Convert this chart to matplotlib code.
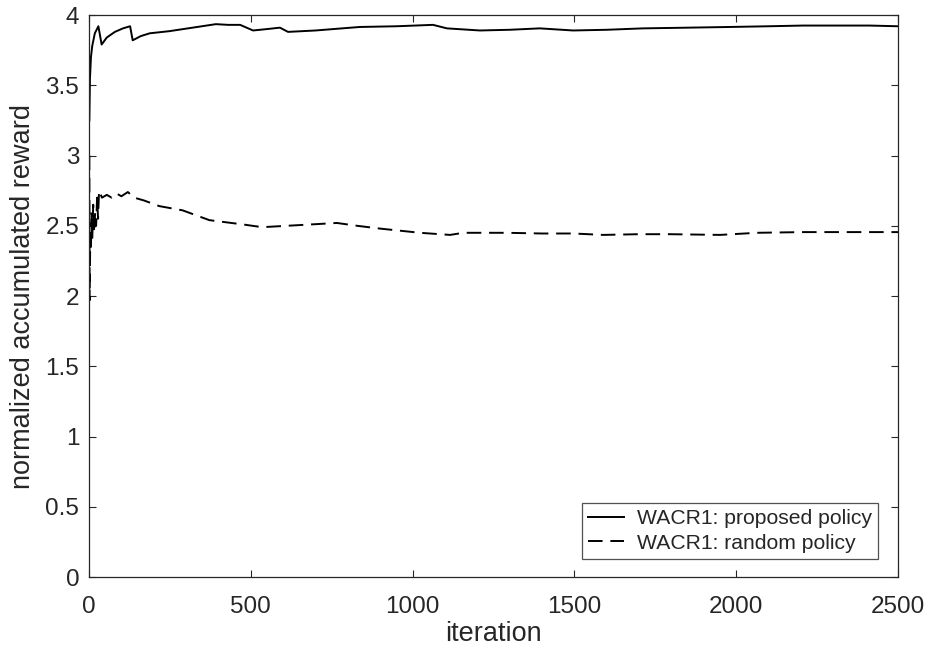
import matplotlib
matplotlib.use("Agg")
import matplotlib.pyplot as plt

# ---- data ----
proposed_iter = [1, 3, 6, 10, 18, 29, 39, 55, 80, 105, 127, 135, 160, 188, 248, 320,
                 392, 430, 467, 507, 550, 590, 615, 700, 837, 950, 1063, 1106, 1208,
                 1300, 1393, 1496, 1600, 1712, 1850, 1981, 2100, 2206, 2413, 2500]
proposed_val = [3.25, 3.55, 3.70, 3.78, 3.87, 3.92, 3.79, 3.84, 3.88, 3.905, 3.92, 3.82,
                3.85, 3.87, 3.885, 3.91, 3.935, 3.93, 3.93, 3.89, 3.90, 3.91, 3.88, 3.89,
                3.915, 3.92, 3.93, 3.905, 3.89, 3.895, 3.905, 3.89, 3.895, 3.905, 3.91,
                3.915, 3.92, 3.925, 3.925, 3.92]

random_iter = [1, 2, 4, 6, 8, 10, 13, 16, 19, 22, 25, 28, 31, 40, 55, 70, 85, 100, 120,
               140, 170, 217, 289, 372, 474, 535, 652, 766, 828, 899, 961, 1023, 1085,
               1116, 1157, 1291, 1400, 1496, 1589, 1700, 1795, 1950, 2064, 2207, 2413, 2500]
random_val = [3.0, 1.97, 2.45, 2.35, 2.6, 2.4, 2.65, 2.45, 2.6, 2.5, 2.7, 2.55, 2.75,
              2.70, 2.72, 2.70, 2.73, 2.71, 2.74, 2.70, 2.68, 2.64, 2.61, 2.54, 2.51,
              2.49, 2.505, 2.52, 2.50, 2.48, 2.465, 2.45, 2.44, 2.435, 2.45, 2.45, 2.445,
              2.445, 2.435, 2.44, 2.44, 2.435, 2.45, 2.455, 2.455, 2.455]

x_ticks = [0, 500, 1000, 1500, 2000, 2500]
y_ticks = [0, 0.5, 1, 1.5, 2, 2.5, 3, 3.5, 4]
y_tick_labels = ["0", "0.5", "1", "1.5", "2", "2.5", "3", "3.5", "4"]

labels = ["WACR1: proposed policy", "WACR1: random policy"]

plt.rcParams['font.family'] = ['Liberation Sans', 'DejaVu Sans']
gray = '#262626'

fig = plt.figure(figsize=(9.3, 6.56), dpi=100)
ax = fig.add_axes([0.0957, 0.1204, 0.8699, 0.8567])

ax.plot(proposed_iter, proposed_val, color='black', lw=1.4, label=labels[0])
ax.plot(random_iter, random_val, color='black', lw=1.4, dashes=(7.5, 4), label=labels[1])

ax.set_xlim(0, 2500)
ax.set_ylim(0, 4)
ax.set_xticks(x_ticks)
ax.set_xticklabels([str(t) for t in x_ticks])
ax.set_yticks(y_ticks)
ax.set_yticklabels(y_tick_labels)

ax.tick_params(direction='in', length=5, width=0.8, colors=gray, labelsize=17.5,
               top=True, right=True)
ax.tick_params(axis='x', pad=14)
ax.tick_params(axis='y', pad=7)
for s in ax.spines.values():
    s.set_color(gray)
    s.set_linewidth(0.9)

ax.set_xlabel('iteration', fontsize=19.5, color=gray, labelpad=2)
ax.set_ylabel('normalized accumulated reward', fontsize=19.5, color=gray, labelpad=7)

leg = ax.legend(loc='lower right', bbox_to_anchor=(0.9753, 0.032), fontsize=15.2,
                frameon=True, fancybox=False, handlelength=1.7, borderpad=0.3,
                labelspacing=0.25, handletextpad=0.6, borderaxespad=0)
leg.get_frame().set_edgecolor(gray)
leg.get_frame().set_linewidth(0.9)
for t in leg.get_texts():
    t.set_color(gray)

fig.savefig('out.png', dpi=100)
